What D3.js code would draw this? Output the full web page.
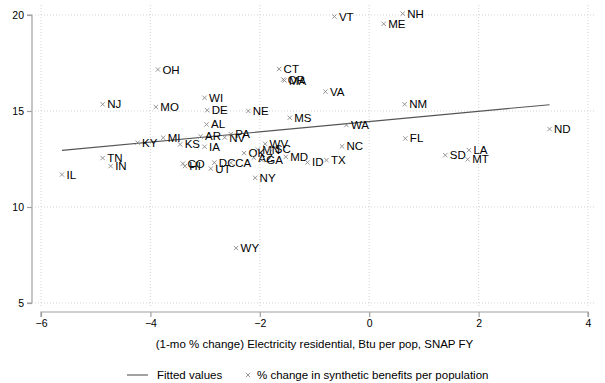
<!DOCTYPE html>
<html>
<head>
<meta charset="utf-8">
<script src="https://cdn.jsdelivr.net/npm/d3@7"></script>
<style>
  body { margin: 0; background: #fff; }
  svg { display: block; font-family: "Liberation Sans", Arial, Helvetica, sans-serif; }
</style>
</head>
<body>
<svg id="chart" width="605" height="383"></svg>
<script>
// State abbreviations with their electricity change (x) and benefit change (y)
const states = ["OH","NJ","MO","KY","MI","KS","TN","IN","IL","CO","HI","CT","OR","MA","VA","WI","DE","NE","MS","AL","WA","AR","NV","PA","IA","WV","MN","SC","NC","OK","AZ","GA","MD","ID","TX","DC","CA","UT","NY","WY","NM","ND","FL","SD","LA","MT","VT","NH","ME"];
const elecChange = [-3.863,-4.873,-3.90,-4.234,-3.766,-3.456,-4.873,-4.727,-5.617,-3.406,-3.37,-1.647,-1.57,-1.55,-0.80,-3.01,-2.962,-2.21,-1.452,-2.974,-0.417,-3.083,-2.64,-2.53,-3.01,-1.903,-2.037,-1.808,-0.497,-2.287,-2.11,-1.963,-1.525,-1.129,-0.782,-2.831,-2.53,-2.895,-2.086,-2.433,0.648,3.297,0.661,1.391,1.823,1.80,-0.636,0.612,0.265];
const benefitChange = [17.16,15.35,15.21,13.35,13.61,13.26,12.55,12.13,11.69,12.26,12.13,17.19,16.64,16.59,16.01,15.69,15.04,15.00,14.65,14.30,14.27,13.68,13.62,13.80,13.14,13.29,12.99,13.02,13.16,12.81,12.57,12.44,12.61,12.32,12.44,12.31,12.31,12.00,11.52,7.86,15.35,14.06,13.57,12.70,12.96,12.48,19.92,20.07,19.54];

const xTicks = [-6, -4, -2, 0, 2, 4];
const yTicks = [5, 10, 15, 20];

const xTitle = "(1-mo % change) Electricity residential, Btu per pop, SNAP FY";
const legendLabels = ["Fitted values", "% change in synthetic benefits per population"];

const svg = d3.select("#chart");

const x = d3.scaleLinear().domain([-6, 4]).range([41, 588]);
const y = d3.scaleLinear().domain([5, 20]).range([303, 15]);

const gridColor = "#c8c8c8";
const axisColor = "#a0a0a0";
const markColor = "#8a8a8a";

// dotted grid
const grid = svg.append("g");
grid.selectAll("line.h").data(yTicks).join("line")
  .attr("x1", 35).attr("x2", 596)
  .attr("y1", d => y(d)).attr("y2", d => y(d))
  .attr("stroke", gridColor).attr("stroke-width", 0.8).attr("stroke-dasharray", "1,2");
grid.selectAll("line.v").data(xTicks).join("line")
  .attr("y1", 5).attr("y2", 308)
  .attr("x1", d => x(d)).attr("x2", d => x(d))
  .attr("stroke", gridColor).attr("stroke-width", 0.8).attr("stroke-dasharray", "1,2");

// axes
const xAxis = svg.append("g").attr("transform", "translate(0,312)")
  .call(d3.axisBottom(x).tickValues(xTicks).tickSize(5).tickPadding(3).tickFormat(d3.format("d")));
const yAxis = svg.append("g").attr("transform", "translate(32,0)")
  .call(d3.axisLeft(y).tickValues(yTicks).tickSize(5).tickPadding(3).tickFormat(d3.format("d")));
[xAxis, yAxis].forEach(g => {
  g.select(".domain").attr("stroke", axisColor).attr("stroke-width", 1.2);
  g.selectAll(".tick line").attr("stroke", axisColor).attr("stroke-width", 1.2);
  g.selectAll(".tick text").attr("fill", "#000").style("font-size", "10.5px")
    .style("font-family", "'Liberation Sans', Arial, sans-serif");
});
xAxis.select(".domain").attr("d", `M${x(-6)},5V0H${x(4)}V5`);
yAxis.select(".domain").attr("d", `M-5,${y(20)}H0V${y(5)}H-5`);

// least-squares fit line
const n = elecChange.length;
const mx = d3.mean(elecChange), my = d3.mean(benefitChange);
let sxy = 0, sxx = 0;
for (let i = 0; i < n; i++) {
  sxy += (elecChange[i] - mx) * (benefitChange[i] - my);
  sxx += (elecChange[i] - mx) ** 2;
}
const slope = sxy / sxx, intercept = my - slope * mx;
const xr = d3.extent(elecChange);
svg.append("line")
  .attr("x1", x(xr[0])).attr("y1", y(intercept + slope * xr[0]))
  .attr("x2", x(xr[1])).attr("y2", y(intercept + slope * xr[1]))
  .attr("stroke", "#555").attr("stroke-width", 1.1);

// markers and labels
const sym = d3.symbol().type(d3.symbolTimes).size(14);
const pts = svg.append("g").selectAll("g").data(states).join("g")
  .attr("transform", (d, i) => `translate(${x(elecChange[i])},${y(benefitChange[i])})`);
pts.append("path").attr("d", sym).attr("fill", "none")
  .attr("stroke", markColor).attr("stroke-width", 0.9);
pts.append("text").text(d => d)
  .attr("x", 4.5).attr("dy", "0.35em")
  .style("font-size", "11.5px").attr("fill", "#000");

// axis title
svg.append("text").attr("x", (x(-6) + x(4)) / 2).attr("y", 348)
  .attr("text-anchor", "middle").style("font-size", "11.5px").text(xTitle);

// legend
const lg = svg.append("g");
lg.append("line").attr("x1", 127).attr("x2", 148).attr("y1", 375).attr("y2", 375)
  .attr("stroke", "#555").attr("stroke-width", 1.1);
lg.append("text").attr("x", 157).attr("y", 375).attr("dy", "0.35em")
  .style("font-size", "11.5px").text(legendLabels[0]);
lg.append("path").attr("d", sym).attr("transform", "translate(248,375)")
  .attr("fill", "none").attr("stroke", markColor).attr("stroke-width", 0.9);
lg.append("text").attr("x", 257).attr("y", 375).attr("dy", "0.35em")
  .style("font-size", "11.5px").text(legendLabels[1]);
</script>
</body>
</html>
